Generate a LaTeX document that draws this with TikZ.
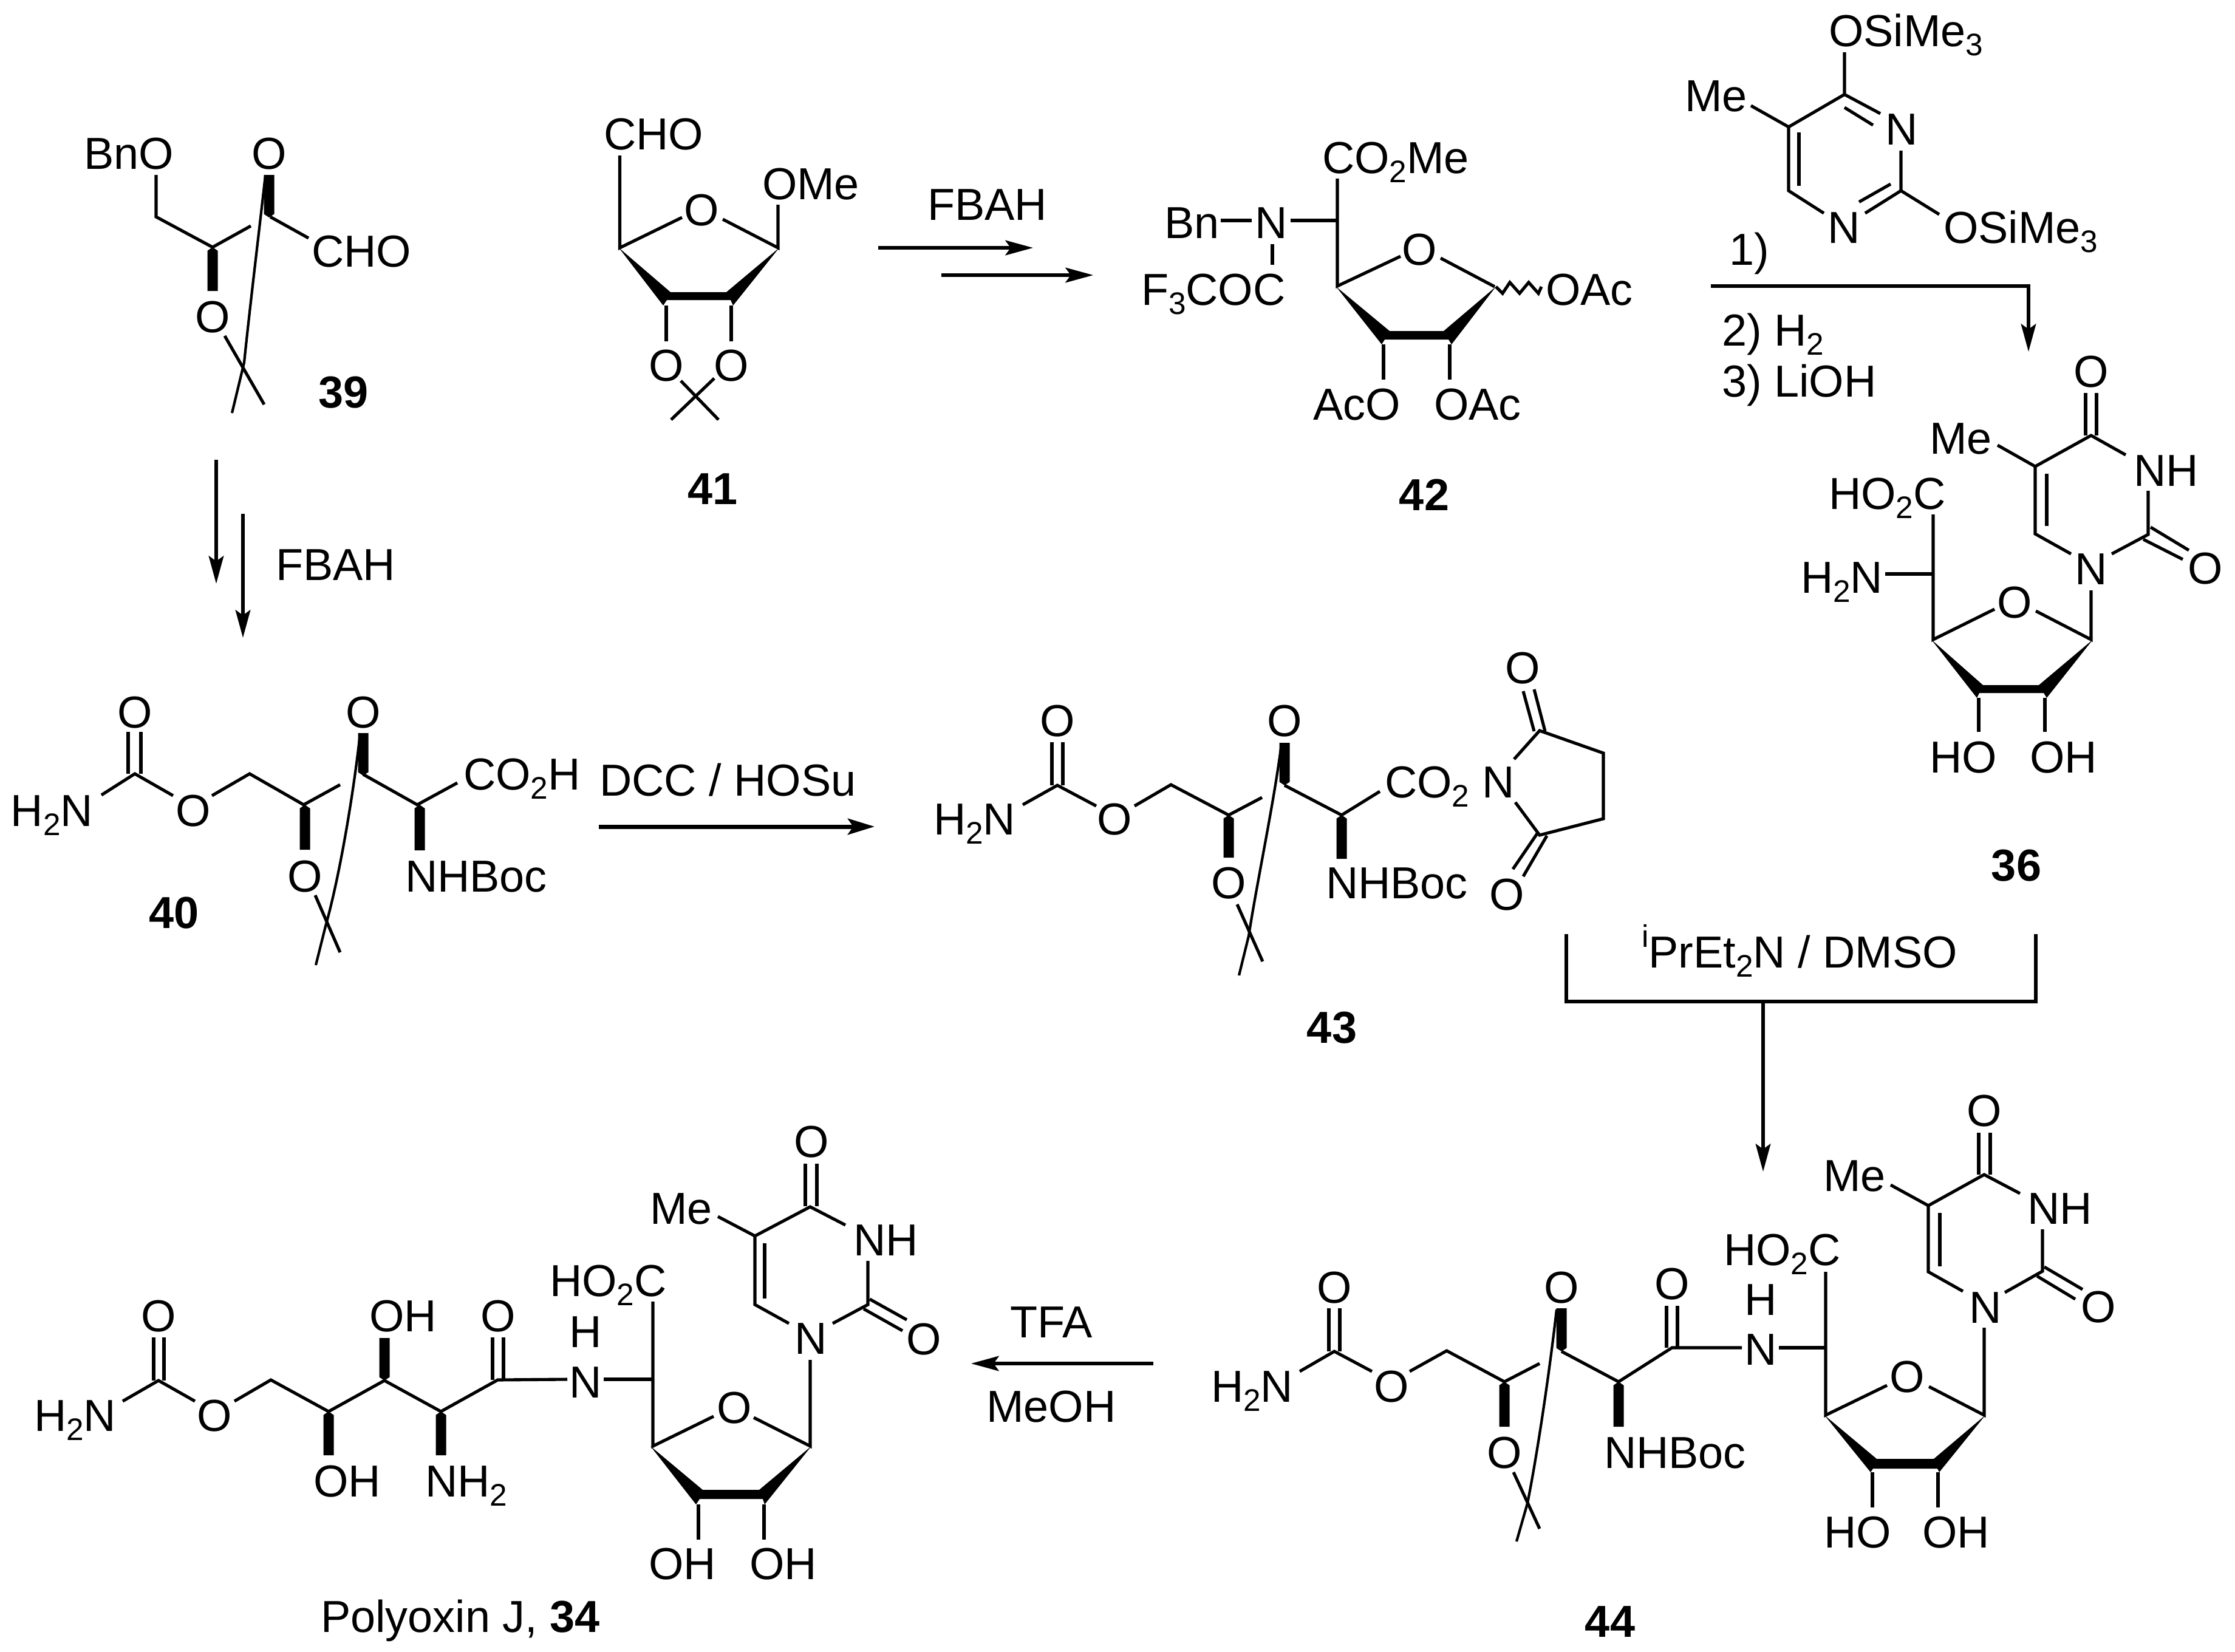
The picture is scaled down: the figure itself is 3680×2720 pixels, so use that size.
\documentclass[tikz,border=0pt]{standalone}
\usepackage{fontspec}
\setmainfont{Liberation Sans}
\usetikzlibrary{arrows.meta}
\newcommand{\sbs}[1]{\raisebox{-4.5pt}{\fontsize{14.6}{16}\selectfont #1}}
\newcommand{\sps}[1]{\raisebox{9.5pt}{\fontsize{14.6}{16}\selectfont #1}}
\newcommand{\lw}[4]{\node[lbl,anchor=base west] (#1) at ({#2+2},#3) {#4};}
\newcommand{\lc}[4]{\node[lbl,anchor=base] (#1) at (#2,#3) {#4};}
\newcommand{\bb}[3]{\fill ({#1},{#2}) -- ({#1-8.5},{#2+0.08*(#3-#2)}) -- ({#1-8.5},{#3}) -- ({#1+8.5},{#3}) -- ({#1+8.5},{#2+0.08*(#3-#2)}) -- cycle;}
\tikzset{
  lbl/.style={inner sep=0pt,outer sep=0pt,font=\fontsize{21}{24}\selectfont},
  bond/.style={line width=1.45pt,line cap=butt,line join=miter},
  thinb/.style={line width=1.2pt,line cap=butt},
  rxn/.style={line width=1.45pt,-{Stealth[length=13pt,width=7pt,inset=2.5pt]}},
  rxnb/.style={line width=2pt,-{Stealth[length=12.5pt,width=7.5pt,inset=2.5pt]}}
}
\begin{document}
\begin{tikzpicture}[x=0.01cm,y=-0.01cm]
\useasboundingbox (0,0) rectangle (3680,2720);
\fill[white] (0,0) rectangle (3680,2720);
% ---------- 39
\lw{a1}{136}{278}{BnO}
\lc{a2}{443}{278}{O}
\lw{a3}{511}{439}{CHO}
\lc{a4}{350}{547}{O}
\lc{a5}{566}{671}{\bfseries 39}
\lw{a6}{452}{955}{FBAH}
\draw[bond] (257,288) -- (257,357) -- (350,407) -- (413,372);
\draw[bond] (445,357) -- (508,392);
\bb{443}{358}{288}
\bb{350}{407}{479}
\draw[bond] (370,553) -- (435,666);
\draw[thinb] (437,288) .. controls (428,370) and (412,500) .. (402,597) -- (382,680);
\draw[rxn] (356,757) -- (356,961);
\draw[rxn] (400,846) -- (400,1050);
% ---------- 41
\lw{b1}{992}{246}{CHO}
\lw{b2}{1253}{328}{OMe}
\lc{b3}{1155}{371}{O}
\lc{b4}{1097}{627}{O}
\lc{b5}{1204}{627}{O}
\lc{b6}{1174}{830}{\bfseries 41}
\lw{b7}{1525}{362}{FBAH}
\draw[bond] (1020.5,256) -- (1020.5,408) -- (1123,358);
\draw[bond] (1190,361) -- (1281,408) -- (1281,337);
\fill (1019,408) -- (1104,481) -- (1196,481) -- (1283,408) -- (1207,503) -- (1203,494) -- (1098,494) -- (1092,503) -- cycle;
\draw[bond] (1097,503) -- (1097,562);
\draw[bond] (1204,503) -- (1204,562);
\draw[bond] (1121,627) -- (1183,691);
\draw[bond] (1176,623) -- (1105,691);
\draw[rxn] (1446,408) -- (1701,408);
\draw[rxn] (1550,453) -- (1800,453);
% ---------- 42
\lw{c1}{2175}{285}{CO\sbs{2}Me}
\lw{c2}{1915}{392}{Bn}
\lc{c3}{2093}{392}{N}
\lw{c4}{1877}{502}{F\sbs{3}COC}
\lc{c5}{2337}{436}{O}
\lw{c6}{2160}{691}{AcO}
\lw{c7}{2359}{691}{OAc}
\lw{c8}{2543}{502}{OAc}
\lc{c9}{2345}{840}{\bfseries 42}
\draw[bond] (2202,294) -- (2202,471) -- (2306,422);
\draw[bond] (2010,363) -- (2061,363);
\draw[bond] (2125,363) -- (2202,363);
\draw[bond] (2095,402) -- (2095,436);
\draw[bond] (2372,425) -- (2461,472);
\fill (2200,472) -- (2288,545) -- (2377,545) -- (2463,472) -- (2390,567) -- (2385,559) -- (2280,559) -- (2275,567) -- cycle;
\draw[bond] (2278,567) -- (2278,625);
\draw[bond] (2387,567) -- (2387,625);
\draw[bond] (2463,472) -- (2474,483) -- (2486,465) -- (2502,483) -- (2517,465) -- (2533,483) -- (2538,472);
% ---------- pyrimidine reagent
\lw{d1}{3009}{76}{OSiMe\sbs{3}}
\lc{d2}{3131}{238}{N}
\lc{d3}{3036}{400}{N}
\lw{d4}{3198}{400}{OSiMe\sbs{3}}
\lw{d5}{2772}{183}{Me}
\lw{d6}{2845}{436}{1)}
\lw{d7}{2833}{569}{2) H\sbs{2}}
\lw{d8}{2833}{653}{3) LiOH}
\draw[bond] (3037,86) -- (3037,155.5) -- (3096,187);
\draw[bond] (3037,177) -- (3084,206);
\draw[bond] (3130,248) -- (3130,314) -- (3071,351);
\draw[bond] (3113,303) -- (3061,332.5);
\draw[bond] (3130,314) -- (3193,353);
\draw[bond] (3003,351) -- (2945,314) -- (2945,209) -- (3037,155.5);
\draw[bond] (2962,218) -- (2962,306);
\draw[bond] (2945,209) -- (2883,174);
\draw[rxn] (2817,471) -- (3340,471) -- (3340,579);
% ---------- 36
\lc{e1}{3443}{637}{O}
\lw{e2}{3511}{800}{NH}
\lc{e3}{3631}{961}{O}
\lc{e4}{3443}{962}{N}
\lw{e5}{3175}{747}{Me}
\lw{e6}{3009}{838}{HO\sbs{2}C}
\lw{e7}{2963}{976}{H\sbs{2}N}
\lc{e8}{3317}{1017}{O}
\lw{e9}{3175}{1272}{HO}
\lw{e10}{3340}{1272}{OH}
\lc{e11}{3320}{1450}{\bfseries 36}
\draw[bond] (3434,647) -- (3434,717);
\draw[bond] (3452,647) -- (3452,717);
\draw[bond] (3351,768) -- (3443,717) -- (3500,749);
\draw[bond] (3537,808) -- (3537,880) -- (3477,912);
\draw[bond] (3541,868) -- (3604,906);
\draw[bond] (3529,888) -- (3594,921);
\draw[bond] (3410,912) -- (3351,879) -- (3351,768) -- (3289,733);
\draw[bond] (3370,780) -- (3370,866);
\draw[bond] (3183,847) -- (3183,1053) -- (3284,1003);
\draw[bond] (3104,945) -- (3183,945);
\draw[bond] (3352,1006) -- (3443,1053) -- (3443,972);
\fill (3180,1053) -- (3265,1128) -- (3357,1128) -- (3446,1053) -- (3370,1149) -- (3365,1141) -- (3259,1141) -- (3255,1149) -- cycle;
\draw[bond] (3258,1149) -- (3258,1205);
\draw[bond] (3367,1149) -- (3367,1205);
% ---------- 40
\lw{f1}{16}{1360}{H\sbs{2}N}
\lc{f2}{222}{1198}{O}
\lc{f3}{318}{1360}{O}
\lc{f4}{502}{1468}{O}
\lc{f5}{598}{1198}{O}
\lw{f6}{761}{1300}{CO\sbs{2}H}
\lw{f7}{665}{1468}{NHBoc}
\lc{f8}{287}{1528}{\bfseries 40}
\lw{f9}{985}{1310}{DCC / HOSu}
\draw[bond] (211,1205) -- (211,1274);
\draw[bond] (232,1205) -- (232,1274);
\draw[bond] (167,1309) -- (222,1274) -- (285,1310);
\draw[bond] (349,1310) -- (411,1274) -- (500,1325) -- (560,1292);
\bb{502}{1325}{1399}
\bb{598}{1277}{1207}
\draw[bond] (598,1275) -- (687,1325) -- (753,1289);
\bb{691}{1325}{1400}
\draw[bond] (519,1474) -- (560,1568);
\draw[thinb] (593,1207) .. controls (583,1300) and (560,1440) .. (536,1525) -- (520,1589);
\draw[rxnb] (986,1361) -- (1440,1361);
% ---------- 43
\lw{g1}{1535}{1374}{H\sbs{2}N}
\lc{g2}{1741}{1212}{O}
\lc{g3}{1835}{1374}{O}
\lc{g4}{2023}{1479}{O}
\lc{g5}{2115}{1212}{O}
\lw{g6}{2181}{1479}{NHBoc}
\lw{g7}{2278}{1313}{CO\sbs{2}}
\lc{g8}{2467}{1313}{N}
\lc{g9}{2507}{1125}{O}
\lc{g10}{2481}{1498}{O}
\lc{g11}{2193}{1717}{\bfseries 43}
\draw[bond] (1732,1222) -- (1732,1293);
\draw[bond] (1750,1222) -- (1750,1293);
\draw[bond] (1684,1325) -- (1741,1293) -- (1805,1327);
\draw[bond] (1868,1327) -- (1928,1292) -- (2023,1342) -- (2078,1313);
\bb{2023}{1342}{1412}
\bb{2115}{1293}{1223}
\draw[bond] (2115,1293) -- (2209,1342) -- (2272,1303);
\bb{2209}{1342}{1414}
\draw[bond] (2037,1489) -- (2079,1583);
\draw[thinb] (2110,1224) .. controls (2098,1320) and (2070,1450) .. (2056,1541) -- (2040,1606);
\draw[bond] (2493,1250) -- (2535,1203) -- (2640,1240) -- (2640,1348) -- (2535,1375) -- (2495,1321);
\draw[bond] (2508,1138) -- (2526,1204);
\draw[bond] (2526,1135) -- (2544,1204);
\draw[bond] (2491,1431) -- (2532,1371);
\draw[bond] (2508,1443) -- (2547,1376);
% ---------- bracket
\lw{h1}{2701}{1593}{\sps{i}PrEt\sbs{2}N / DMSO}
\draw[bond] (2579,1538) -- (2579,1649) -- (3352,1649) -- (3352,1538);
\draw[rxn] (2903,1649) -- (2903,1929);
% ---------- 34
\lw{i1}{54}{2356}{H\sbs{2}N}
\lc{i2}{261}{2192}{O}
\lc{i3}{353}{2356}{O}
\lw{i4}{514}{2464}{OH}
\lw{i5}{606}{2192}{OH}
\lw{i6}{698}{2464}{NH\sbs{2}}
\lc{i7}{820}{2192}{O}
\lw{i8}{526}{2687}{Polyoxin J, \bfseries 34}
\lw{i9}{903}{2134}{HO\sbs{2}C}
\lc{i10}{964}{2218}{H}
\lc{i11}{964}{2301}{N}
\lc{i12}{1209}{2343}{O}
\lw{i13}{1066}{2600}{OH}
\lw{i14}{1232}{2600}{OH}
\lc{i15}{1335}{2229}{N}
\lw{i16}{1068}{2015}{Me}
\lw{i17}{1403}{2067}{NH}
\lc{i18}{1521}{2230}{O}
\lc{i19}{1336}{1905}{O}
\lw{i20}{1661}{2202}{TFA}
\lw{i21}{1622}{2341}{MeOH}
\draw[bond] (253,2202) -- (253,2273);
\draw[bond] (270,2202) -- (270,2273);
\draw[bond] (202,2307) -- (261,2273) -- (321,2307);
\draw[bond] (386,2307) -- (446,2272) -- (541,2324) -- (633,2273) -- (726,2324) -- (819.5,2272) -- (934,2271);
\bb{541}{2324}{2396}
\bb{633}{2273}{2203}
\bb{726}{2324}{2396}
\draw[bond] (811,2202) -- (811,2272);
\draw[bond] (829,2202) -- (829,2272);
\draw[bond] (994,2271) -- (1075,2271);
\draw[bond] (1075,2143) -- (1075,2381) -- (1175,2332);
\draw[bond] (1241,2334) -- (1334,2381) -- (1334,2239);
\fill (1071,2381) -- (1157,2453) -- (1250,2453) -- (1336,2381) -- (1259,2477) -- (1256,2468) -- (1152,2468) -- (1146,2477) -- cycle;
\draw[bond] (1150,2477) -- (1150,2535);
\draw[bond] (1258,2477) -- (1258,2535);
\draw[bond] (1299,2179) -- (1243,2148) -- (1243,2035) -- (1334,1987) -- (1392,2017);
\draw[bond] (1259,2047) -- (1259,2138);
\draw[bond] (1182,2003) -- (1243,2035);
\draw[bond] (1429,2076) -- (1429,2148) -- (1371,2179);
\draw[bond] (1432,2139) -- (1493,2173);
\draw[bond] (1422,2155) -- (1486,2191);
\draw[bond] (1326,1916) -- (1326,1986);
\draw[bond] (1345,1916) -- (1345,1986);
\draw[rxn] (1899,2245) -- (1599,2245);
% ---------- 44
\lw{j1}{1992}{2308}{H\sbs{2}N}
\lc{j2}{2197}{2145}{O}
\lc{j3}{2291}{2308}{O}
\lc{j4}{2477}{2417}{O}
\lc{j5}{2571}{2145}{O}
\lw{j6}{2639}{2417}{NHBoc}
\lc{j7}{2753}{2139}{O}
\lc{j8}{2651}{2695}{\bfseries 44}
\lw{j9}{2836}{2083}{HO\sbs{2}C}
\lc{j10}{2899}{2165}{H}
\lc{j11}{2899}{2247}{N}
\lc{j12}{3140}{2292}{O}
\lw{j13}{3001}{2548}{HO}
\lw{j14}{3163}{2548}{OH}
\lc{j15}{3269}{2178}{N}
\lw{j16}{3000}{1961}{Me}
\lw{j17}{3336}{2015}{NH}
\lc{j18}{3455}{2177}{O}
\lc{j19}{3267}{1854}{O}
\draw[bond] (2188,2154) -- (2188,2225);
\draw[bond] (2206,2154) -- (2206,2225);
\draw[bond] (2140,2258) -- (2197,2225) -- (2259,2258);
\draw[bond] (2321,2258) -- (2382,2224) -- (2477,2275) -- (2535,2245);
\bb{2477}{2275}{2349}
\bb{2571}{2225}{2154}
\draw[bond] (2571,2225) -- (2665,2275) -- (2753,2219) -- (2868,2219);
\bb{2665}{2275}{2349}
\draw[bond] (2744,2150) -- (2744,2219);
\draw[bond] (2762,2150) -- (2762,2219);
\draw[bond] (2492,2424) -- (2535,2517);
\draw[thinb] (2563,2156) .. controls (2550,2270) and (2530,2400) .. (2515,2475) -- (2497,2538);
\draw[bond] (2929,2219) -- (3006,2219);
\draw[bond] (3006,2094) -- (3006,2330) -- (3107,2281);
\draw[bond] (3176,2283) -- (3267,2330) -- (3267,2186);
\fill (3004,2330) -- (3090,2402) -- (3184,2402) -- (3269,2330) -- (3193,2424) -- (3190,2418) -- (3084,2418) -- (3080,2424) -- cycle;
\draw[bond] (3083,2424) -- (3083,2482);
\draw[bond] (3191,2424) -- (3191,2482);
\draw[bond] (3232,2126) -- (3175,2094) -- (3175,1985) -- (3267,1934) -- (3326,1965);
\draw[bond] (3194,1997) -- (3194,2085);
\draw[bond] (3113,1951) -- (3175,1985);
\draw[bond] (3363,2024) -- (3363,2093) -- (3301,2128);
\draw[bond] (3366,2086) -- (3429,2123);
\draw[bond] (3354,2101) -- (3417,2139);
\draw[bond] (3258,1865) -- (3258,1934);
\draw[bond] (3277,1865) -- (3277,1934);
\end{tikzpicture}
\end{document}
